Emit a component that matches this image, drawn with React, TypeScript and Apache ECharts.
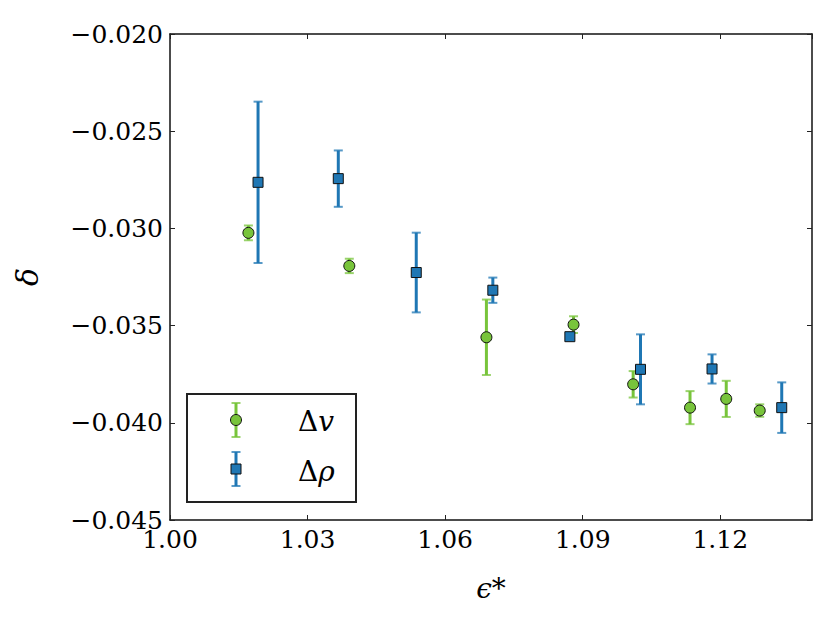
import React, { useEffect, useRef } from "react";
import * as echarts from "echarts";

// Δv series (green circles)
const vX = [1.0171, 1.0391, 1.069, 1.088, 1.101, 1.1134, 1.1213, 1.1286];
const vY = [-0.03023, -0.03193, -0.0356, -0.03495, -0.03802, -0.03922, -0.03877, -0.03937];
const vErr = [0.00038, 0.00037, 0.00194, 0.00043, 0.00068, 0.00085, 0.00093, 0.00032];

// Δρ series (blue squares)
const rX = [1.0192, 1.0367, 1.0537, 1.0704, 1.0872, 1.1026, 1.1182, 1.1334];
const rY = [-0.02763, -0.02744, -0.03227, -0.03318, -0.03557, -0.03725, -0.03723, -0.03922];
const rErr = [0.00415, 0.00145, 0.00205, 0.00065, 0.0001, 0.0018, 0.00075, 0.0013];

const xMin = 1.0;
const xMax = 1.14;
const xStep = 0.03;
const yMin = -0.045;
const yMax = -0.02;
const yStep = 0.005;

const GREEN = "#78c43b";
const BLUE = "#1f77b4";
const FONT = "DejaVu Serif";

function errData(xs: number[], ys: number[], es: number[]) {
  return xs.map((x, i) => [x, ys[i] - es[i], ys[i] + es[i]]);
}

function errSeries(data: number[][], color: string) {
  return {
    type: "custom",
    xAxisIndex: 0,
    yAxisIndex: 0,
    data,
    z: 2,
    renderItem: (params: any, api: any) => {
      const x = api.value(0);
      const lo = api.value(1);
      const hi = api.value(2);
      const p1 = api.coord([x, hi]);
      const p2 = api.coord([x, lo]);
      const cw = 4.5;
      const st = { stroke: color, lineWidth: 3 };
      const cst = { stroke: color, lineWidth: 2, opacity: 0.75 };
      return {
        type: "group",
        children: [
          { type: "line", shape: { x1: p1[0], y1: p1[1], x2: p2[0], y2: p2[1] }, style: st },
          { type: "line", shape: { x1: p1[0] - cw, y1: p1[1], x2: p1[0] + cw, y2: p1[1] }, style: cst },
          { type: "line", shape: { x1: p2[0] - cw, y1: p2[1], x2: p2[0] + cw, y2: p2[1] }, style: cst },
        ],
      };
    },
  };
}

const fmtMinus = (s: string) => s.replace("-", "\u2212");

export default function App() {
  const ref = useRef<HTMLDivElement>(null);
  useEffect(() => {
    if (!ref.current) return;
    const chart = echarts.init(ref.current, null, { renderer: "svg" });
    const axisLine = { show: true, lineStyle: { color: "#111", width: 1.5 } };
    const tick = { show: true, inside: true, length: 5, lineStyle: { color: "#222", width: 1 } };
    const option: any = {
      animation: false,
      backgroundColor: "#fff",
      textStyle: { fontFamily: FONT },
      grid: { left: 170, right: 18, top: 34, bottom: 103, containLabel: false },
      xAxis: [
        {
          type: "value",
          position: "bottom",
          min: xMin,
          max: xMax,
          interval: xStep,
          axisLine,
          axisTick: tick,
          splitLine: { show: false },
          axisLabel: {
            show: true,
            margin: 7,
            showMaxLabel: false,
            color: "#000",
            fontFamily: FONT,
            fontSize: 25,
            formatter: (v: number) => (Math.abs(v - xMax) < 1e-6 ? "" : v.toFixed(2)),
          },
          name: "ϵ*",
          nameLocation: "middle",
          nameGap: 54,
          nameTextStyle: { fontFamily: FONT, fontSize: 28, fontStyle: "italic", color: "#000" },
        },
        {
          type: "value",
          position: "top",
          min: xMin,
          max: xMax,
          interval: xStep,
          axisLine,
          axisTick: tick,
          splitLine: { show: false },
          axisLabel: { show: false },
        },
      ],
      yAxis: [
        {
          type: "value",
          position: "left",
          min: yMin,
          max: yMax,
          interval: yStep,
          axisLine,
          axisTick: tick,
          splitLine: { show: false },
          axisLabel: {
            show: true,
            margin: 7,
            color: "#000",
            fontFamily: FONT,
            fontSize: 25,
            formatter: (v: number) => fmtMinus(v.toFixed(3)),
          },
          name: "δ",
          nameLocation: "middle",
          nameGap: 128,
          nameRotate: 90,
          nameTextStyle: { fontFamily: FONT, fontSize: 30, fontStyle: "italic", color: "#000" },
        },
        {
          type: "value",
          position: "right",
          min: yMin,
          max: yMax,
          interval: yStep,
          axisLine,
          axisTick: tick,
          splitLine: { show: false },
          axisLabel: { show: false },
        },
      ],
      series: [
        errSeries(errData(vX, vY, vErr), GREEN),
        {
          type: "scatter",
          name: "Δv",
          xAxisIndex: 0,
          yAxisIndex: 0,
          z: 3,
          symbol: "circle",
          symbolSize: 11,
          itemStyle: { color: GREEN, borderColor: "#111", borderWidth: 1, opacity: 1 },
          data: vX.map((x, i) => [x, vY[i]]),
        },
        errSeries(errData(rX, rY, rErr), BLUE),
        {
          type: "scatter",
          name: "Δρ",
          xAxisIndex: 0,
          yAxisIndex: 0,
          z: 3,
          symbol: "rect",
          symbolSize: 10,
          itemStyle: { color: BLUE, borderColor: "#111", borderWidth: 1, opacity: 1 },
          data: rX.map((x, i) => [x, rY[i]]),
        },
      ],
      graphic: [
        {
          type: "rect",
          shape: { x: 187, y: 394, width: 169, height: 108 },
          style: { fill: "#fff", stroke: "#222", lineWidth: 2 },
          z: 10,
        },
        // Δv entry
        { type: "line", shape: { x1: 236, y1: 403, x2: 236, y2: 437 }, style: { stroke: GREEN, lineWidth: 3 }, z: 11 },
        { type: "line", shape: { x1: 231.5, y1: 403, x2: 240.5, y2: 403 }, style: { stroke: GREEN, lineWidth: 2, opacity: 0.75 }, z: 11 },
        { type: "line", shape: { x1: 231.5, y1: 437, x2: 240.5, y2: 437 }, style: { stroke: GREEN, lineWidth: 2, opacity: 0.75 }, z: 11 },
        { type: "circle", shape: { cx: 236, cy: 420, r: 5.5 }, style: { fill: GREEN, stroke: "#111", lineWidth: 1 }, z: 12 },
        {
          type: "text",
          x: 298,
          y: 421,
          z: 12,
          style: {
            text: "{a|Δ}{b|v}",
            verticalAlign: "middle",
            rich: {
              a: { fontFamily: FONT, fontSize: 28, fill: "#000" },
              b: { fontFamily: FONT, fontSize: 28, fontStyle: "italic", fill: "#000" },
            },
          },
        },
        // Δρ entry
        { type: "line", shape: { x1: 236, y1: 452, x2: 236, y2: 486 }, style: { stroke: BLUE, lineWidth: 3 }, z: 11 },
        { type: "line", shape: { x1: 231.5, y1: 452, x2: 240.5, y2: 452 }, style: { stroke: BLUE, lineWidth: 2, opacity: 0.75 }, z: 11 },
        { type: "line", shape: { x1: 231.5, y1: 486, x2: 240.5, y2: 486 }, style: { stroke: BLUE, lineWidth: 2, opacity: 0.75 }, z: 11 },
        { type: "rect", shape: { x: 231, y: 464, width: 10, height: 10 }, style: { fill: BLUE, stroke: "#111", lineWidth: 1 }, z: 12 },
        {
          type: "text",
          x: 298,
          y: 471,
          z: 12,
          style: {
            text: "{a|Δ}{b|ρ}",
            verticalAlign: "middle",
            rich: {
              a: { fontFamily: FONT, fontSize: 28, fill: "#000" },
              b: { fontFamily: FONT, fontSize: 28, fontStyle: "italic", fill: "#000" },
            },
          },
        },
      ],
    };
    chart.setOption(option);
    return () => chart.dispose();
  }, []);
  return (
    <div
      ref={ref}
      style={{ position: "fixed", left: 0, top: 0, width: 830, height: 623, background: "#fff" }}
    />
  );
}
